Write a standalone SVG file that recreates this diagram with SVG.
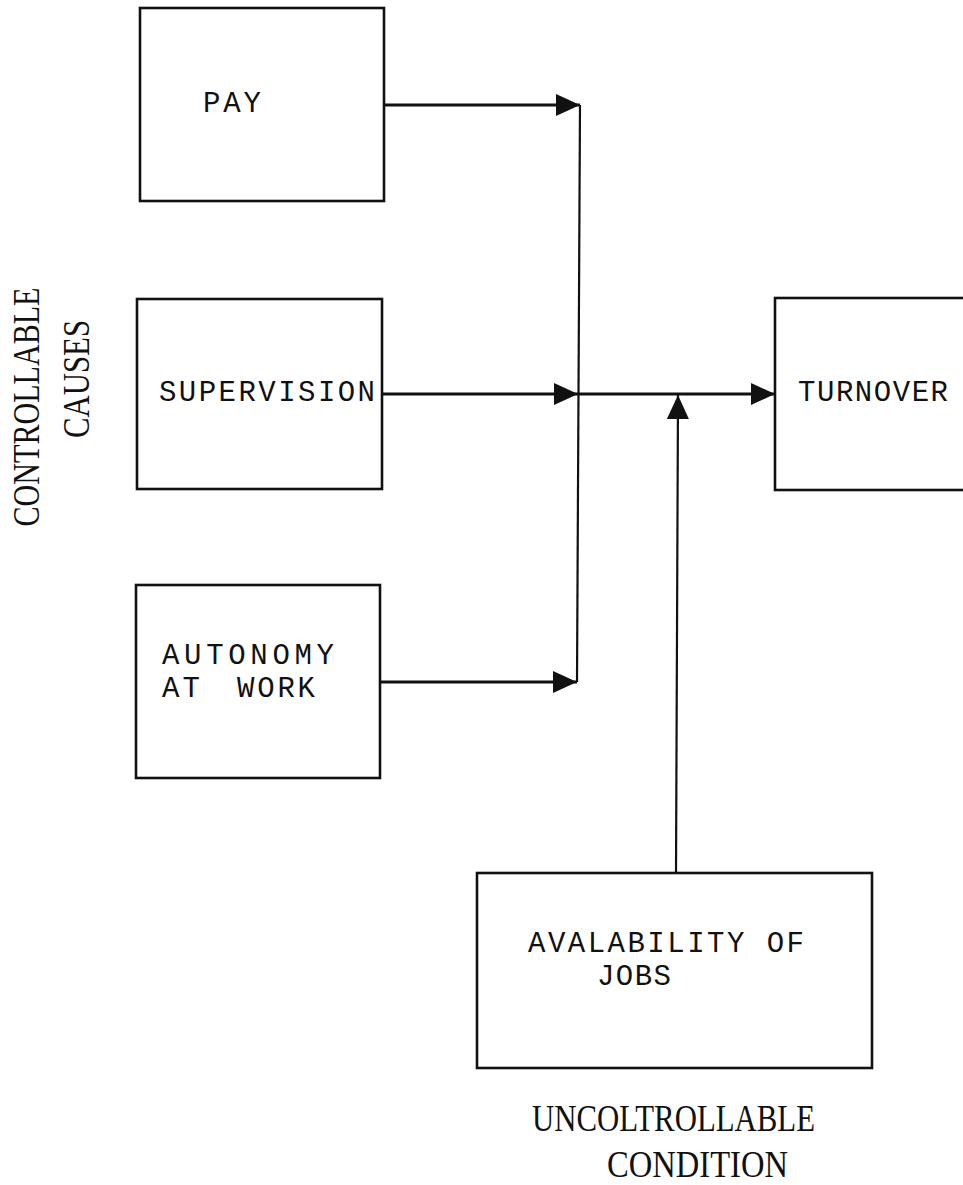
<svg xmlns="http://www.w3.org/2000/svg" width="963" height="1185" viewBox="0 0 963 1185">
  <style>
    .box { fill: #fff; stroke: #111; stroke-width: 2.6; }
    .mono { font-family: "Liberation Mono", "Courier New", monospace; font-size: 29px; fill: #111; }
    .serif { font-family: "Liberation Serif", "Times New Roman", serif; font-size: 38px; fill: #111; }
    .conn { fill: none; stroke: #111; stroke-width: 3; }
    .thin { stroke-width: 2.2; }
  </style>
  <defs>
    <marker id="arrow" markerUnits="userSpaceOnUse" markerWidth="25" markerHeight="23" refX="24" refY="11" orient="auto">
      <path d="M0,0 L24,11 L0,22 z" fill="#111"/>
    </marker>
  </defs>
  <rect width="963" height="1185" fill="#fff"/>

  <g id="pay">
    <rect class="box" x="140" y="8" width="244" height="193"/>
    <text class="mono" x="203" y="112" textLength="58" lengthAdjust="spacing">PAY</text>
  </g>
  <g id="supervision">
    <rect class="box" x="137" y="299" width="245" height="190"/>
    <text class="mono" x="159" y="401" textLength="216" lengthAdjust="spacing">SUPERVISION</text>
  </g>
  <g id="autonomy">
    <rect class="box" x="136" y="585" width="244" height="193"/>
    <text class="mono" x="162" y="664" textLength="172" lengthAdjust="spacing">AUTONOMY</text>
    <text class="mono" x="162" y="697" textLength="38" lengthAdjust="spacing">AT</text>
    <text class="mono" x="237" y="697" textLength="78" lengthAdjust="spacing">WORK</text>
  </g>
  <g id="turnover">
    <rect class="box" x="775" y="298" width="200" height="192"/>
    <text class="mono" x="798" y="401" textLength="150" lengthAdjust="spacing">TURNOVER</text>
  </g>
  <g id="jobs">
    <rect class="box" x="477" y="873" width="395" height="195"/>
    <text class="mono" x="528" y="952" textLength="276" lengthAdjust="spacing">AVALABILITY OF</text>
    <text class="mono" x="597" y="985" textLength="74" lengthAdjust="spacing">JOBS</text>
  </g>
  <g id="controllable-label">
    <text class="serif" transform="translate(39,407) rotate(-90)" text-anchor="middle" textLength="239" lengthAdjust="spacingAndGlyphs">CONTROLLABLE</text>
    <text class="serif" transform="translate(89,379) rotate(-90)" text-anchor="middle" textLength="118" lengthAdjust="spacingAndGlyphs">CAUSES</text>
  </g>
  <g id="uncontrollable-label">
    <text class="serif" x="532" y="1131" textLength="283" lengthAdjust="spacingAndGlyphs">UNCOLTROLLABLE</text>
    <text class="serif" x="607" y="1177" textLength="181" lengthAdjust="spacingAndGlyphs">CONDITION</text>
  </g>

  <g id="connectors">
    <line class="conn" x1="384" y1="105" x2="580" y2="105" marker-end="url(#arrow)"/>
    <line class="conn" x1="382" y1="394" x2="578" y2="394" marker-end="url(#arrow)"/>
    <line class="conn" x1="380" y1="682" x2="577" y2="682" marker-end="url(#arrow)"/>
    <line class="conn thin" x1="580" y1="105" x2="577" y2="682"/>
    <line class="conn" x1="578" y1="394" x2="775" y2="394" marker-end="url(#arrow)"/>
    <line class="conn thin" x1="676" y1="873" x2="678" y2="395" marker-end="url(#arrow)"/>
  </g>
</svg>
